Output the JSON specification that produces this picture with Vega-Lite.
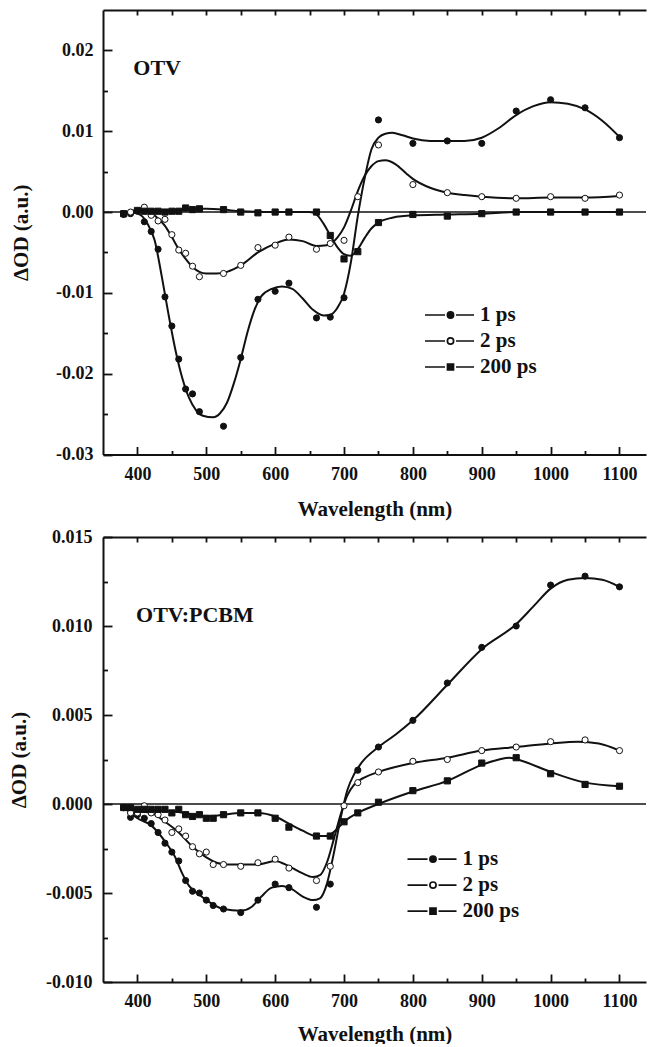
{
  "$schema": "https://vega.github.io/schema/vega-lite/v6.json",
  "padding": {"left": 8, "top": 9, "right": 0, "bottom": 0},
  "spacing": 8,
  "resolve": {"scale": {"shape": "independent", "fill": "independent", "stroke": "independent"}, "legend": {"shape": "independent", "fill": "independent", "stroke": "independent"}},
  "datasets": {
    "pts": [
      {"panel":"OTV","series":"1 ps","wavelength":380,"dOD":-0.0003},
      {"panel":"OTV","series":"1 ps","wavelength":390,"dOD":-0.0002},
      {"panel":"OTV","series":"1 ps","wavelength":400,"dOD":0.0001},
      {"panel":"OTV","series":"1 ps","wavelength":410,"dOD":-0.0012},
      {"panel":"OTV","series":"1 ps","wavelength":420,"dOD":-0.0024},
      {"panel":"OTV","series":"1 ps","wavelength":430,"dOD":-0.0046},
      {"panel":"OTV","series":"1 ps","wavelength":440,"dOD":-0.0105},
      {"panel":"OTV","series":"1 ps","wavelength":450,"dOD":-0.0141},
      {"panel":"OTV","series":"1 ps","wavelength":460,"dOD":-0.0182},
      {"panel":"OTV","series":"1 ps","wavelength":470,"dOD":-0.0219},
      {"panel":"OTV","series":"1 ps","wavelength":480,"dOD":-0.0225},
      {"panel":"OTV","series":"1 ps","wavelength":490,"dOD":-0.0247},
      {"panel":"OTV","series":"1 ps","wavelength":525,"dOD":-0.0265},
      {"panel":"OTV","series":"1 ps","wavelength":550,"dOD":-0.018},
      {"panel":"OTV","series":"1 ps","wavelength":575,"dOD":-0.0108},
      {"panel":"OTV","series":"1 ps","wavelength":600,"dOD":-0.0098},
      {"panel":"OTV","series":"1 ps","wavelength":620,"dOD":-0.0088},
      {"panel":"OTV","series":"1 ps","wavelength":660,"dOD":-0.0131},
      {"panel":"OTV","series":"1 ps","wavelength":680,"dOD":-0.013},
      {"panel":"OTV","series":"1 ps","wavelength":700,"dOD":-0.0106},
      {"panel":"OTV","series":"1 ps","wavelength":750,"dOD":0.0114},
      {"panel":"OTV","series":"1 ps","wavelength":800,"dOD":0.0085},
      {"panel":"OTV","series":"1 ps","wavelength":850,"dOD":0.0088},
      {"panel":"OTV","series":"1 ps","wavelength":900,"dOD":0.0085},
      {"panel":"OTV","series":"1 ps","wavelength":950,"dOD":0.0125},
      {"panel":"OTV","series":"1 ps","wavelength":1000,"dOD":0.0139},
      {"panel":"OTV","series":"1 ps","wavelength":1050,"dOD":0.0129},
      {"panel":"OTV","series":"1 ps","wavelength":1100,"dOD":0.0092},
      {"panel":"OTV","series":"2 ps","wavelength":390,"dOD":0.0},
      {"panel":"OTV","series":"2 ps","wavelength":410,"dOD":0.0006},
      {"panel":"OTV","series":"2 ps","wavelength":420,"dOD":-0.0004},
      {"panel":"OTV","series":"2 ps","wavelength":430,"dOD":-0.0011},
      {"panel":"OTV","series":"2 ps","wavelength":440,"dOD":-0.0009},
      {"panel":"OTV","series":"2 ps","wavelength":450,"dOD":-0.0028},
      {"panel":"OTV","series":"2 ps","wavelength":460,"dOD":-0.0047},
      {"panel":"OTV","series":"2 ps","wavelength":470,"dOD":-0.0051},
      {"panel":"OTV","series":"2 ps","wavelength":480,"dOD":-0.0067},
      {"panel":"OTV","series":"2 ps","wavelength":490,"dOD":-0.008},
      {"panel":"OTV","series":"2 ps","wavelength":525,"dOD":-0.0076},
      {"panel":"OTV","series":"2 ps","wavelength":550,"dOD":-0.0066},
      {"panel":"OTV","series":"2 ps","wavelength":575,"dOD":-0.0044},
      {"panel":"OTV","series":"2 ps","wavelength":600,"dOD":-0.0041},
      {"panel":"OTV","series":"2 ps","wavelength":620,"dOD":-0.0031},
      {"panel":"OTV","series":"2 ps","wavelength":660,"dOD":-0.0046},
      {"panel":"OTV","series":"2 ps","wavelength":680,"dOD":-0.0039},
      {"panel":"OTV","series":"2 ps","wavelength":700,"dOD":-0.0035},
      {"panel":"OTV","series":"2 ps","wavelength":720,"dOD":0.0019},
      {"panel":"OTV","series":"2 ps","wavelength":750,"dOD":0.0083},
      {"panel":"OTV","series":"2 ps","wavelength":800,"dOD":0.0034},
      {"panel":"OTV","series":"2 ps","wavelength":850,"dOD":0.0024},
      {"panel":"OTV","series":"2 ps","wavelength":900,"dOD":0.0019},
      {"panel":"OTV","series":"2 ps","wavelength":950,"dOD":0.0017},
      {"panel":"OTV","series":"2 ps","wavelength":1000,"dOD":0.0019},
      {"panel":"OTV","series":"2 ps","wavelength":1050,"dOD":0.0017},
      {"panel":"OTV","series":"2 ps","wavelength":1100,"dOD":0.0021},
      {"panel":"OTV","series":"200 ps","wavelength":380,"dOD":-0.0002},
      {"panel":"OTV","series":"200 ps","wavelength":400,"dOD":0.0002},
      {"panel":"OTV","series":"200 ps","wavelength":410,"dOD":0.0001},
      {"panel":"OTV","series":"200 ps","wavelength":420,"dOD":0.0001},
      {"panel":"OTV","series":"200 ps","wavelength":430,"dOD":0.0001},
      {"panel":"OTV","series":"200 ps","wavelength":440,"dOD":0.0},
      {"panel":"OTV","series":"200 ps","wavelength":450,"dOD":0.0001},
      {"panel":"OTV","series":"200 ps","wavelength":460,"dOD":0.0001},
      {"panel":"OTV","series":"200 ps","wavelength":470,"dOD":0.0005},
      {"panel":"OTV","series":"200 ps","wavelength":480,"dOD":0.0003},
      {"panel":"OTV","series":"200 ps","wavelength":490,"dOD":0.0004},
      {"panel":"OTV","series":"200 ps","wavelength":525,"dOD":0.0003},
      {"panel":"OTV","series":"200 ps","wavelength":550,"dOD":0.0},
      {"panel":"OTV","series":"200 ps","wavelength":575,"dOD":-0.0001},
      {"panel":"OTV","series":"200 ps","wavelength":600,"dOD":0.0},
      {"panel":"OTV","series":"200 ps","wavelength":620,"dOD":0.0},
      {"panel":"OTV","series":"200 ps","wavelength":660,"dOD":0.0},
      {"panel":"OTV","series":"200 ps","wavelength":680,"dOD":-0.0029},
      {"panel":"OTV","series":"200 ps","wavelength":700,"dOD":-0.0058},
      {"panel":"OTV","series":"200 ps","wavelength":720,"dOD":-0.0049},
      {"panel":"OTV","series":"200 ps","wavelength":750,"dOD":-0.0013},
      {"panel":"OTV","series":"200 ps","wavelength":800,"dOD":-0.0003},
      {"panel":"OTV","series":"200 ps","wavelength":850,"dOD":-0.0005},
      {"panel":"OTV","series":"200 ps","wavelength":900,"dOD":-0.0002},
      {"panel":"OTV","series":"200 ps","wavelength":950,"dOD":0.0},
      {"panel":"OTV","series":"200 ps","wavelength":1000,"dOD":0.0},
      {"panel":"OTV","series":"200 ps","wavelength":1050,"dOD":0.0},
      {"panel":"OTV","series":"200 ps","wavelength":1100,"dOD":0.0},
      {"panel":"PCBM","series":"1 ps","wavelength":380,"dOD":-0.0002},
      {"panel":"PCBM","series":"1 ps","wavelength":390,"dOD":-0.00075},
      {"panel":"PCBM","series":"1 ps","wavelength":400,"dOD":-0.0006},
      {"panel":"PCBM","series":"1 ps","wavelength":410,"dOD":-0.0008},
      {"panel":"PCBM","series":"1 ps","wavelength":420,"dOD":-0.0011},
      {"panel":"PCBM","series":"1 ps","wavelength":430,"dOD":-0.0016},
      {"panel":"PCBM","series":"1 ps","wavelength":440,"dOD":-0.0022},
      {"panel":"PCBM","series":"1 ps","wavelength":450,"dOD":-0.0027},
      {"panel":"PCBM","series":"1 ps","wavelength":460,"dOD":-0.0032},
      {"panel":"PCBM","series":"1 ps","wavelength":470,"dOD":-0.0043},
      {"panel":"PCBM","series":"1 ps","wavelength":480,"dOD":-0.0049},
      {"panel":"PCBM","series":"1 ps","wavelength":490,"dOD":-0.005},
      {"panel":"PCBM","series":"1 ps","wavelength":500,"dOD":-0.0054},
      {"panel":"PCBM","series":"1 ps","wavelength":510,"dOD":-0.0057},
      {"panel":"PCBM","series":"1 ps","wavelength":525,"dOD":-0.0059},
      {"panel":"PCBM","series":"1 ps","wavelength":550,"dOD":-0.0061},
      {"panel":"PCBM","series":"1 ps","wavelength":575,"dOD":-0.0054},
      {"panel":"PCBM","series":"1 ps","wavelength":600,"dOD":-0.0045},
      {"panel":"PCBM","series":"1 ps","wavelength":620,"dOD":-0.0047},
      {"panel":"PCBM","series":"1 ps","wavelength":660,"dOD":-0.0058},
      {"panel":"PCBM","series":"1 ps","wavelength":680,"dOD":-0.0045},
      {"panel":"PCBM","series":"1 ps","wavelength":720,"dOD":0.0019},
      {"panel":"PCBM","series":"1 ps","wavelength":750,"dOD":0.0032},
      {"panel":"PCBM","series":"1 ps","wavelength":800,"dOD":0.0047},
      {"panel":"PCBM","series":"1 ps","wavelength":850,"dOD":0.0068},
      {"panel":"PCBM","series":"1 ps","wavelength":900,"dOD":0.0088},
      {"panel":"PCBM","series":"1 ps","wavelength":950,"dOD":0.01},
      {"panel":"PCBM","series":"1 ps","wavelength":1000,"dOD":0.0123},
      {"panel":"PCBM","series":"1 ps","wavelength":1050,"dOD":0.0128},
      {"panel":"PCBM","series":"1 ps","wavelength":1100,"dOD":0.0122},
      {"panel":"PCBM","series":"2 ps","wavelength":380,"dOD":-0.0002},
      {"panel":"PCBM","series":"2 ps","wavelength":390,"dOD":-0.0005},
      {"panel":"PCBM","series":"2 ps","wavelength":400,"dOD":-0.0005},
      {"panel":"PCBM","series":"2 ps","wavelength":410,"dOD":-0.0001},
      {"panel":"PCBM","series":"2 ps","wavelength":420,"dOD":-0.0005},
      {"panel":"PCBM","series":"2 ps","wavelength":430,"dOD":-0.0006},
      {"panel":"PCBM","series":"2 ps","wavelength":440,"dOD":-0.0009},
      {"panel":"PCBM","series":"2 ps","wavelength":450,"dOD":-0.0016},
      {"panel":"PCBM","series":"2 ps","wavelength":460,"dOD":-0.0014},
      {"panel":"PCBM","series":"2 ps","wavelength":470,"dOD":-0.0018},
      {"panel":"PCBM","series":"2 ps","wavelength":480,"dOD":-0.0024},
      {"panel":"PCBM","series":"2 ps","wavelength":490,"dOD":-0.0028},
      {"panel":"PCBM","series":"2 ps","wavelength":500,"dOD":-0.0027},
      {"panel":"PCBM","series":"2 ps","wavelength":510,"dOD":-0.0034},
      {"panel":"PCBM","series":"2 ps","wavelength":525,"dOD":-0.0034},
      {"panel":"PCBM","series":"2 ps","wavelength":550,"dOD":-0.0035},
      {"panel":"PCBM","series":"2 ps","wavelength":575,"dOD":-0.0033},
      {"panel":"PCBM","series":"2 ps","wavelength":600,"dOD":-0.0031},
      {"panel":"PCBM","series":"2 ps","wavelength":620,"dOD":-0.0036},
      {"panel":"PCBM","series":"2 ps","wavelength":660,"dOD":-0.0043},
      {"panel":"PCBM","series":"2 ps","wavelength":680,"dOD":-0.0035},
      {"panel":"PCBM","series":"2 ps","wavelength":700,"dOD":-0.0001},
      {"panel":"PCBM","series":"2 ps","wavelength":720,"dOD":0.0012},
      {"panel":"PCBM","series":"2 ps","wavelength":750,"dOD":0.0018},
      {"panel":"PCBM","series":"2 ps","wavelength":800,"dOD":0.0024},
      {"panel":"PCBM","series":"2 ps","wavelength":850,"dOD":0.0025},
      {"panel":"PCBM","series":"2 ps","wavelength":900,"dOD":0.003},
      {"panel":"PCBM","series":"2 ps","wavelength":950,"dOD":0.0032},
      {"panel":"PCBM","series":"2 ps","wavelength":1000,"dOD":0.0035},
      {"panel":"PCBM","series":"2 ps","wavelength":1050,"dOD":0.0036},
      {"panel":"PCBM","series":"2 ps","wavelength":1100,"dOD":0.003},
      {"panel":"PCBM","series":"200 ps","wavelength":380,"dOD":-0.0002},
      {"panel":"PCBM","series":"200 ps","wavelength":390,"dOD":-0.0002},
      {"panel":"PCBM","series":"200 ps","wavelength":400,"dOD":-0.0003},
      {"panel":"PCBM","series":"200 ps","wavelength":410,"dOD":-0.0003},
      {"panel":"PCBM","series":"200 ps","wavelength":420,"dOD":-0.0003},
      {"panel":"PCBM","series":"200 ps","wavelength":430,"dOD":-0.0003},
      {"panel":"PCBM","series":"200 ps","wavelength":440,"dOD":-0.0003},
      {"panel":"PCBM","series":"200 ps","wavelength":450,"dOD":-0.0005},
      {"panel":"PCBM","series":"200 ps","wavelength":460,"dOD":-0.0003},
      {"panel":"PCBM","series":"200 ps","wavelength":470,"dOD":-0.0006},
      {"panel":"PCBM","series":"200 ps","wavelength":480,"dOD":-0.0007},
      {"panel":"PCBM","series":"200 ps","wavelength":490,"dOD":-0.0006},
      {"panel":"PCBM","series":"200 ps","wavelength":500,"dOD":-0.0008},
      {"panel":"PCBM","series":"200 ps","wavelength":510,"dOD":-0.0008},
      {"panel":"PCBM","series":"200 ps","wavelength":525,"dOD":-0.0006},
      {"panel":"PCBM","series":"200 ps","wavelength":550,"dOD":-0.0005},
      {"panel":"PCBM","series":"200 ps","wavelength":575,"dOD":-0.0005},
      {"panel":"PCBM","series":"200 ps","wavelength":600,"dOD":-0.0008},
      {"panel":"PCBM","series":"200 ps","wavelength":620,"dOD":-0.0013},
      {"panel":"PCBM","series":"200 ps","wavelength":660,"dOD":-0.0018},
      {"panel":"PCBM","series":"200 ps","wavelength":680,"dOD":-0.0018},
      {"panel":"PCBM","series":"200 ps","wavelength":700,"dOD":-0.001},
      {"panel":"PCBM","series":"200 ps","wavelength":720,"dOD":-0.0005},
      {"panel":"PCBM","series":"200 ps","wavelength":750,"dOD":0.0001},
      {"panel":"PCBM","series":"200 ps","wavelength":800,"dOD":0.00075},
      {"panel":"PCBM","series":"200 ps","wavelength":850,"dOD":0.0013},
      {"panel":"PCBM","series":"200 ps","wavelength":900,"dOD":0.0023},
      {"panel":"PCBM","series":"200 ps","wavelength":950,"dOD":0.0026},
      {"panel":"PCBM","series":"200 ps","wavelength":1000,"dOD":0.0017},
      {"panel":"PCBM","series":"200 ps","wavelength":1050,"dOD":0.0011},
      {"panel":"PCBM","series":"200 ps","wavelength":1100,"dOD":0.001}
    ],
    "crv": [
      {"panel":"OTV","series":"1 ps","wavelength":380,"dOD":-0.0002},
      {"panel":"OTV","series":"1 ps","wavelength":395,"dOD":-0.0001},
      {"panel":"OTV","series":"1 ps","wavelength":405,"dOD":-0.0004},
      {"panel":"OTV","series":"1 ps","wavelength":415,"dOD":-0.0015},
      {"panel":"OTV","series":"1 ps","wavelength":425,"dOD":-0.0035},
      {"panel":"OTV","series":"1 ps","wavelength":435,"dOD":-0.0078},
      {"panel":"OTV","series":"1 ps","wavelength":445,"dOD":-0.0126},
      {"panel":"OTV","series":"1 ps","wavelength":455,"dOD":-0.0170},
      {"panel":"OTV","series":"1 ps","wavelength":465,"dOD":-0.0205},
      {"panel":"OTV","series":"1 ps","wavelength":475,"dOD":-0.0230},
      {"panel":"OTV","series":"1 ps","wavelength":485,"dOD":-0.0245},
      {"panel":"OTV","series":"1 ps","wavelength":495,"dOD":-0.0252},
      {"panel":"OTV","series":"1 ps","wavelength":510,"dOD":-0.0254},
      {"panel":"OTV","series":"1 ps","wavelength":520,"dOD":-0.0249},
      {"panel":"OTV","series":"1 ps","wavelength":530,"dOD":-0.0236},
      {"panel":"OTV","series":"1 ps","wavelength":540,"dOD":-0.0212},
      {"panel":"OTV","series":"1 ps","wavelength":550,"dOD":-0.0182},
      {"panel":"OTV","series":"1 ps","wavelength":560,"dOD":-0.0148},
      {"panel":"OTV","series":"1 ps","wavelength":570,"dOD":-0.0121},
      {"panel":"OTV","series":"1 ps","wavelength":580,"dOD":-0.0104},
      {"panel":"OTV","series":"1 ps","wavelength":595,"dOD":-0.0095},
      {"panel":"OTV","series":"1 ps","wavelength":610,"dOD":-0.0092},
      {"panel":"OTV","series":"1 ps","wavelength":625,"dOD":-0.0095},
      {"panel":"OTV","series":"1 ps","wavelength":640,"dOD":-0.0107},
      {"panel":"OTV","series":"1 ps","wavelength":655,"dOD":-0.0121},
      {"panel":"OTV","series":"1 ps","wavelength":670,"dOD":-0.0128},
      {"panel":"OTV","series":"1 ps","wavelength":680,"dOD":-0.0127},
      {"panel":"OTV","series":"1 ps","wavelength":690,"dOD":-0.0119},
      {"panel":"OTV","series":"1 ps","wavelength":700,"dOD":-0.0101},
      {"panel":"OTV","series":"1 ps","wavelength":710,"dOD":-0.0062},
      {"panel":"OTV","series":"1 ps","wavelength":720,"dOD":-0.0005},
      {"panel":"OTV","series":"1 ps","wavelength":730,"dOD":0.0042},
      {"panel":"OTV","series":"1 ps","wavelength":740,"dOD":0.0078},
      {"panel":"OTV","series":"1 ps","wavelength":750,"dOD":0.0092},
      {"panel":"OTV","series":"1 ps","wavelength":760,"dOD":0.0097},
      {"panel":"OTV","series":"1 ps","wavelength":770,"dOD":0.0098},
      {"panel":"OTV","series":"1 ps","wavelength":785,"dOD":0.0095},
      {"panel":"OTV","series":"1 ps","wavelength":800,"dOD":0.0091},
      {"panel":"OTV","series":"1 ps","wavelength":825,"dOD":0.0088},
      {"panel":"OTV","series":"1 ps","wavelength":850,"dOD":0.0088},
      {"panel":"OTV","series":"1 ps","wavelength":875,"dOD":0.0088},
      {"panel":"OTV","series":"1 ps","wavelength":900,"dOD":0.0092},
      {"panel":"OTV","series":"1 ps","wavelength":925,"dOD":0.0104},
      {"panel":"OTV","series":"1 ps","wavelength":950,"dOD":0.0120},
      {"panel":"OTV","series":"1 ps","wavelength":975,"dOD":0.0131},
      {"panel":"OTV","series":"1 ps","wavelength":1000,"dOD":0.0136},
      {"panel":"OTV","series":"1 ps","wavelength":1025,"dOD":0.0134},
      {"panel":"OTV","series":"1 ps","wavelength":1050,"dOD":0.0127},
      {"panel":"OTV","series":"1 ps","wavelength":1075,"dOD":0.0113},
      {"panel":"OTV","series":"1 ps","wavelength":1100,"dOD":0.0093},
      {"panel":"OTV","series":"2 ps","wavelength":380,"dOD":-0.0002},
      {"panel":"OTV","series":"2 ps","wavelength":395,"dOD":0.0002},
      {"panel":"OTV","series":"2 ps","wavelength":410,"dOD":0.0003},
      {"panel":"OTV","series":"2 ps","wavelength":420,"dOD":-0.0001},
      {"panel":"OTV","series":"2 ps","wavelength":430,"dOD":-0.0008},
      {"panel":"OTV","series":"2 ps","wavelength":440,"dOD":-0.0017},
      {"panel":"OTV","series":"2 ps","wavelength":450,"dOD":-0.0031},
      {"panel":"OTV","series":"2 ps","wavelength":460,"dOD":-0.0046},
      {"panel":"OTV","series":"2 ps","wavelength":470,"dOD":-0.0058},
      {"panel":"OTV","series":"2 ps","wavelength":480,"dOD":-0.0068},
      {"panel":"OTV","series":"2 ps","wavelength":490,"dOD":-0.0074},
      {"panel":"OTV","series":"2 ps","wavelength":500,"dOD":-0.0076},
      {"panel":"OTV","series":"2 ps","wavelength":515,"dOD":-0.0076},
      {"panel":"OTV","series":"2 ps","wavelength":530,"dOD":-0.0074},
      {"panel":"OTV","series":"2 ps","wavelength":550,"dOD":-0.0066},
      {"panel":"OTV","series":"2 ps","wavelength":575,"dOD":-0.0050},
      {"panel":"OTV","series":"2 ps","wavelength":600,"dOD":-0.0039},
      {"panel":"OTV","series":"2 ps","wavelength":620,"dOD":-0.0034},
      {"panel":"OTV","series":"2 ps","wavelength":640,"dOD":-0.0036},
      {"panel":"OTV","series":"2 ps","wavelength":660,"dOD":-0.0042},
      {"panel":"OTV","series":"2 ps","wavelength":675,"dOD":-0.0041},
      {"panel":"OTV","series":"2 ps","wavelength":690,"dOD":-0.0032},
      {"panel":"OTV","series":"2 ps","wavelength":700,"dOD":-0.0019},
      {"panel":"OTV","series":"2 ps","wavelength":710,"dOD":0.0002},
      {"panel":"OTV","series":"2 ps","wavelength":720,"dOD":0.0026},
      {"panel":"OTV","series":"2 ps","wavelength":730,"dOD":0.0045},
      {"panel":"OTV","series":"2 ps","wavelength":740,"dOD":0.0057},
      {"panel":"OTV","series":"2 ps","wavelength":750,"dOD":0.0063},
      {"panel":"OTV","series":"2 ps","wavelength":760,"dOD":0.0064},
      {"panel":"OTV","series":"2 ps","wavelength":775,"dOD":0.0059},
      {"panel":"OTV","series":"2 ps","wavelength":790,"dOD":0.0048},
      {"panel":"OTV","series":"2 ps","wavelength":800,"dOD":0.0041},
      {"panel":"OTV","series":"2 ps","wavelength":825,"dOD":0.0030},
      {"panel":"OTV","series":"2 ps","wavelength":850,"dOD":0.0024},
      {"panel":"OTV","series":"2 ps","wavelength":875,"dOD":0.0021},
      {"panel":"OTV","series":"2 ps","wavelength":900,"dOD":0.0019},
      {"panel":"OTV","series":"2 ps","wavelength":950,"dOD":0.0017},
      {"panel":"OTV","series":"2 ps","wavelength":1000,"dOD":0.0018},
      {"panel":"OTV","series":"2 ps","wavelength":1050,"dOD":0.0018},
      {"panel":"OTV","series":"2 ps","wavelength":1100,"dOD":0.0020},
      {"panel":"OTV","series":"200 ps","wavelength":380,"dOD":-0.0001},
      {"panel":"OTV","series":"200 ps","wavelength":400,"dOD":0.0002},
      {"panel":"OTV","series":"200 ps","wavelength":450,"dOD":0.0002},
      {"panel":"OTV","series":"200 ps","wavelength":480,"dOD":0.0004},
      {"panel":"OTV","series":"200 ps","wavelength":500,"dOD":0.0004},
      {"panel":"OTV","series":"200 ps","wavelength":525,"dOD":0.0003},
      {"panel":"OTV","series":"200 ps","wavelength":550,"dOD":0.0001},
      {"panel":"OTV","series":"200 ps","wavelength":600,"dOD":0.0},
      {"panel":"OTV","series":"200 ps","wavelength":650,"dOD":0.0},
      {"panel":"OTV","series":"200 ps","wavelength":660,"dOD":-0.0003},
      {"panel":"OTV","series":"200 ps","wavelength":670,"dOD":-0.0014},
      {"panel":"OTV","series":"200 ps","wavelength":680,"dOD":-0.0029},
      {"panel":"OTV","series":"200 ps","wavelength":690,"dOD":-0.0043},
      {"panel":"OTV","series":"200 ps","wavelength":700,"dOD":-0.0052},
      {"panel":"OTV","series":"200 ps","wavelength":710,"dOD":-0.0054},
      {"panel":"OTV","series":"200 ps","wavelength":720,"dOD":-0.0046},
      {"panel":"OTV","series":"200 ps","wavelength":730,"dOD":-0.0032},
      {"panel":"OTV","series":"200 ps","wavelength":740,"dOD":-0.0020},
      {"panel":"OTV","series":"200 ps","wavelength":750,"dOD":-0.0013},
      {"panel":"OTV","series":"200 ps","wavelength":770,"dOD":-0.0007},
      {"panel":"OTV","series":"200 ps","wavelength":800,"dOD":-0.0004},
      {"panel":"OTV","series":"200 ps","wavelength":850,"dOD":-0.0003},
      {"panel":"OTV","series":"200 ps","wavelength":900,"dOD":-0.0002},
      {"panel":"OTV","series":"200 ps","wavelength":950,"dOD":0.0},
      {"panel":"OTV","series":"200 ps","wavelength":1000,"dOD":0.0},
      {"panel":"OTV","series":"200 ps","wavelength":1100,"dOD":0.0},
      {"panel":"PCBM","series":"1 ps","wavelength":380,"dOD":-0.0002},
      {"panel":"PCBM","series":"1 ps","wavelength":390,"dOD":-0.0005},
      {"panel":"PCBM","series":"1 ps","wavelength":400,"dOD":-0.0008},
      {"panel":"PCBM","series":"1 ps","wavelength":420,"dOD":-0.0012},
      {"panel":"PCBM","series":"1 ps","wavelength":440,"dOD":-0.0021},
      {"panel":"PCBM","series":"1 ps","wavelength":455,"dOD":-0.0030},
      {"panel":"PCBM","series":"1 ps","wavelength":465,"dOD":-0.0039},
      {"panel":"PCBM","series":"1 ps","wavelength":475,"dOD":-0.0046},
      {"panel":"PCBM","series":"1 ps","wavelength":490,"dOD":-0.0051},
      {"panel":"PCBM","series":"1 ps","wavelength":500,"dOD":-0.0054},
      {"panel":"PCBM","series":"1 ps","wavelength":525,"dOD":-0.0059},
      {"panel":"PCBM","series":"1 ps","wavelength":550,"dOD":-0.0060},
      {"panel":"PCBM","series":"1 ps","wavelength":565,"dOD":-0.0058},
      {"panel":"PCBM","series":"1 ps","wavelength":580,"dOD":-0.0052},
      {"panel":"PCBM","series":"1 ps","wavelength":595,"dOD":-0.0047},
      {"panel":"PCBM","series":"1 ps","wavelength":610,"dOD":-0.0046},
      {"panel":"PCBM","series":"1 ps","wavelength":625,"dOD":-0.0048},
      {"panel":"PCBM","series":"1 ps","wavelength":640,"dOD":-0.0052},
      {"panel":"PCBM","series":"1 ps","wavelength":655,"dOD":-0.0054},
      {"panel":"PCBM","series":"1 ps","wavelength":665,"dOD":-0.0053},
      {"panel":"PCBM","series":"1 ps","wavelength":675,"dOD":-0.0045},
      {"panel":"PCBM","series":"1 ps","wavelength":685,"dOD":-0.0028},
      {"panel":"PCBM","series":"1 ps","wavelength":695,"dOD":-0.0008},
      {"panel":"PCBM","series":"1 ps","wavelength":705,"dOD":0.0008},
      {"panel":"PCBM","series":"1 ps","wavelength":715,"dOD":0.0017},
      {"panel":"PCBM","series":"1 ps","wavelength":725,"dOD":0.0023},
      {"panel":"PCBM","series":"1 ps","wavelength":750,"dOD":0.0032},
      {"panel":"PCBM","series":"1 ps","wavelength":775,"dOD":0.0039},
      {"panel":"PCBM","series":"1 ps","wavelength":800,"dOD":0.0047},
      {"panel":"PCBM","series":"1 ps","wavelength":850,"dOD":0.0067},
      {"panel":"PCBM","series":"1 ps","wavelength":900,"dOD":0.0087},
      {"panel":"PCBM","series":"1 ps","wavelength":950,"dOD":0.0101},
      {"panel":"PCBM","series":"1 ps","wavelength":975,"dOD":0.0111},
      {"panel":"PCBM","series":"1 ps","wavelength":1000,"dOD":0.0121},
      {"panel":"PCBM","series":"1 ps","wavelength":1025,"dOD":0.0126},
      {"panel":"PCBM","series":"1 ps","wavelength":1050,"dOD":0.0127},
      {"panel":"PCBM","series":"1 ps","wavelength":1075,"dOD":0.0126},
      {"panel":"PCBM","series":"1 ps","wavelength":1100,"dOD":0.0122},
      {"panel":"PCBM","series":"2 ps","wavelength":380,"dOD":-0.0002},
      {"panel":"PCBM","series":"2 ps","wavelength":400,"dOD":-0.0004},
      {"panel":"PCBM","series":"2 ps","wavelength":420,"dOD":-0.0005},
      {"panel":"PCBM","series":"2 ps","wavelength":440,"dOD":-0.0010},
      {"panel":"PCBM","series":"2 ps","wavelength":460,"dOD":-0.0016},
      {"panel":"PCBM","series":"2 ps","wavelength":480,"dOD":-0.0024},
      {"panel":"PCBM","series":"2 ps","wavelength":500,"dOD":-0.0030},
      {"panel":"PCBM","series":"2 ps","wavelength":515,"dOD":-0.0033},
      {"panel":"PCBM","series":"2 ps","wavelength":530,"dOD":-0.0034},
      {"panel":"PCBM","series":"2 ps","wavelength":550,"dOD":-0.0034},
      {"panel":"PCBM","series":"2 ps","wavelength":575,"dOD":-0.0034},
      {"panel":"PCBM","series":"2 ps","wavelength":600,"dOD":-0.0032},
      {"panel":"PCBM","series":"2 ps","wavelength":620,"dOD":-0.0035},
      {"panel":"PCBM","series":"2 ps","wavelength":640,"dOD":-0.0039},
      {"panel":"PCBM","series":"2 ps","wavelength":655,"dOD":-0.0041},
      {"panel":"PCBM","series":"2 ps","wavelength":665,"dOD":-0.0040},
      {"panel":"PCBM","series":"2 ps","wavelength":675,"dOD":-0.0033},
      {"panel":"PCBM","series":"2 ps","wavelength":685,"dOD":-0.0020},
      {"panel":"PCBM","series":"2 ps","wavelength":695,"dOD":-0.0006},
      {"panel":"PCBM","series":"2 ps","wavelength":705,"dOD":0.0005},
      {"panel":"PCBM","series":"2 ps","wavelength":715,"dOD":0.0011},
      {"panel":"PCBM","series":"2 ps","wavelength":730,"dOD":0.0015},
      {"panel":"PCBM","series":"2 ps","wavelength":750,"dOD":0.0018},
      {"panel":"PCBM","series":"2 ps","wavelength":800,"dOD":0.0023},
      {"panel":"PCBM","series":"2 ps","wavelength":850,"dOD":0.0026},
      {"panel":"PCBM","series":"2 ps","wavelength":900,"dOD":0.0030},
      {"panel":"PCBM","series":"2 ps","wavelength":950,"dOD":0.0032},
      {"panel":"PCBM","series":"2 ps","wavelength":1000,"dOD":0.0034},
      {"panel":"PCBM","series":"2 ps","wavelength":1040,"dOD":0.0035},
      {"panel":"PCBM","series":"2 ps","wavelength":1070,"dOD":0.0034},
      {"panel":"PCBM","series":"2 ps","wavelength":1100,"dOD":0.0030},
      {"panel":"PCBM","series":"200 ps","wavelength":380,"dOD":-0.0002},
      {"panel":"PCBM","series":"200 ps","wavelength":400,"dOD":-0.0003},
      {"panel":"PCBM","series":"200 ps","wavelength":450,"dOD":-0.0004},
      {"panel":"PCBM","series":"200 ps","wavelength":480,"dOD":-0.0006},
      {"panel":"PCBM","series":"200 ps","wavelength":500,"dOD":-0.0007},
      {"panel":"PCBM","series":"200 ps","wavelength":525,"dOD":-0.0006},
      {"panel":"PCBM","series":"200 ps","wavelength":550,"dOD":-0.0005},
      {"panel":"PCBM","series":"200 ps","wavelength":575,"dOD":-0.0005},
      {"panel":"PCBM","series":"200 ps","wavelength":600,"dOD":-0.0007},
      {"panel":"PCBM","series":"200 ps","wavelength":620,"dOD":-0.0011},
      {"panel":"PCBM","series":"200 ps","wavelength":640,"dOD":-0.0015},
      {"panel":"PCBM","series":"200 ps","wavelength":660,"dOD":-0.0018},
      {"panel":"PCBM","series":"200 ps","wavelength":675,"dOD":-0.0018},
      {"panel":"PCBM","series":"200 ps","wavelength":690,"dOD":-0.0014},
      {"panel":"PCBM","series":"200 ps","wavelength":700,"dOD":-0.0010},
      {"panel":"PCBM","series":"200 ps","wavelength":720,"dOD":-0.0005},
      {"panel":"PCBM","series":"200 ps","wavelength":750,"dOD":0.0},
      {"panel":"PCBM","series":"200 ps","wavelength":800,"dOD":0.0007},
      {"panel":"PCBM","series":"200 ps","wavelength":850,"dOD":0.0013},
      {"panel":"PCBM","series":"200 ps","wavelength":900,"dOD":0.0022},
      {"panel":"PCBM","series":"200 ps","wavelength":925,"dOD":0.0025},
      {"panel":"PCBM","series":"200 ps","wavelength":940,"dOD":0.0026},
      {"panel":"PCBM","series":"200 ps","wavelength":960,"dOD":0.0024},
      {"panel":"PCBM","series":"200 ps","wavelength":1000,"dOD":0.0018},
      {"panel":"PCBM","series":"200 ps","wavelength":1050,"dOD":0.0012},
      {"panel":"PCBM","series":"200 ps","wavelength":1100,"dOD":0.0010}
    ]
  },
  "vconcat": [
    {
      "width": 543,
      "height": 444.5,
      "resolve": {"axis": {"x": "independent", "y": "independent"}, "scale": {"shape": "independent", "fill": "independent", "stroke": "independent"}},
      "layer": [
        {
          "data": {"values": [{}]},
          "mark": {"type": "rule", "stroke": "#111", "strokeWidth": 1.6},
          "encoding": {"y": {"datum": 0, "type": "quantitative", "axis": null}}
        },
        {
          "data": {"name": "crv"},
          "transform": [{"filter": "datum.panel === 'OTV'"}],
          "mark": {"type": "line", "interpolate": "monotone", "stroke": "#111", "strokeWidth": 2},
          "encoding": {
            "x": {"field": "wavelength", "type": "quantitative", "title": "Wavelength (nm)",
              "scale": {"domain": [350, 1138.5], "nice": false, "zero": false},
              "axis": {"orient": "bottom", "values": [400,450,500,550,600,650,700,750,800,850,900,950,1000,1050,1100],
                "format": "d",
                "labelExpr": "datum.value % 100 === 0 ? datum.label : ''",
                "tickSize": {"condition": {"test": "datum.value % 100 === 0", "value": -8}, "value": -4},
                "labelPadding": 19, "titlePadding": 11, "labelFlush": false, "labelOverlap": false}},
            "y": {"field": "dOD", "type": "quantitative", "title": "ΔOD (a.u.)",
              "scale": {"domain": [-0.03, 0.025], "nice": false, "zero": false},
              "axis": {"orient": "left", "values": [-0.03,-0.025,-0.02,-0.015,-0.01,-0.005,0,0.005,0.01,0.015,0.02],
                "format": ".2f",
                "labelExpr": "abs(datum.value*100 - round(datum.value*100)) < 1e-6 ? replace(datum.label, '−', '-') : ''",
                "tickSize": {"condition": {"test": "abs(datum.value*100 - round(datum.value*100)) < 1e-6", "value": -9}, "value": -4.5},
                "labelPadding": 19, "titlePadding": 24, "labelFlush": false, "labelOverlap": false}},
            "detail": {"field": "series"}
          }
        },
        {
          "data": {"name": "pts"},
          "transform": [{"filter": "datum.panel === 'OTV'"}],
          "mark": {"type": "point", "filled": true, "size": 38, "stroke": "#111", "strokeWidth": 1, "opacity": 1},
          "encoding": {
            "x": {"field": "wavelength", "type": "quantitative",
              "axis": {"orient": "top", "values": [400,450,500,550,600,650,700,750,800,850,900,950,1000,1050,1100], "labels": false, "title": null, "tickSize": -5}},
            "y": {"field": "dOD", "type": "quantitative", "axis": null},
            "shape": {"field": "series", "type": "nominal", "scale": {"domain": ["1 ps", "2 ps", "200 ps"], "range": ["circle", "circle", "square"]}, "legend": null},
            "fill": {"field": "series", "type": "nominal", "scale": {"domain": ["1 ps", "2 ps", "200 ps"], "range": ["#111", "#ffffff", "#111"]}, "legend": null}
          }
        },
        {
          "data": {"values": []},
          "mark": {"type": "point", "filled": true, "opacity": 1, "stroke": "#111", "strokeWidth": 1.7},
          "encoding": {
            "shape": {"field": "key", "type": "nominal",
              "scale": {"domain": ["1 ps", "2 ps", "200 ps"], "range": ["M-5.1,0H-1.1M1.1,0H4.7M0.62,0A0.62,0.62,0,1,1,-0.62,0A0.62,0.62,0,1,1,0.62,0Z", "M-5.1,0H-1.1M1.1,0H4.7M0.62,0A0.62,0.62,0,1,1,-0.62,0A0.62,0.62,0,1,1,0.62,0Z", "M-5.1,0H-1.1M1.1,0H4.7M-0.6,-0.6H0.6V0.6H-0.6Z"]},
              "legend": {"orient": "none", "legendX": 337, "legendY": 294.5, "title": null, "padding": 0,
                "labelFont": "Liberation Serif", "labelFontWeight": "bold", "labelFontSize": 21, "labelColor": "#111",
                "labelOffset": 19, "rowPadding": 4, "symbolSize": 100, "symbolStrokeWidth": 1.7,
                "encode": {"symbols": {"update": {"stroke": {"value": "#111"}, "strokeWidth": {"value": 1.7}}}}}},
            "fill": {"field": "key", "type": "nominal",
              "scale": {"domain": ["1 ps", "2 ps", "200 ps"], "range": ["#111", "#ffffff", "#111"]},
              "legend": {"orient": "none", "legendX": 337, "legendY": 294.5, "title": null, "padding": 0,
                "labelFont": "Liberation Serif", "labelFontWeight": "bold", "labelFontSize": 21, "labelColor": "#111",
                "labelOffset": 19, "rowPadding": 4, "symbolSize": 100, "symbolStrokeWidth": 1.7,
                "encode": {"symbols": {"update": {"stroke": {"value": "#111"}, "strokeWidth": {"value": 1.7}}}}}},
            "stroke": {"field": "key", "type": "nominal",
              "scale": {"domain": ["1 ps", "2 ps", "200 ps"], "range": ["#111", "#111", "#111"]},
              "legend": {"orient": "none", "legendX": 337, "legendY": 294.5, "title": null, "padding": 0,
                "labelFont": "Liberation Serif", "labelFontWeight": "bold", "labelFontSize": 21, "labelColor": "#111",
                "labelOffset": 19, "rowPadding": 4, "symbolSize": 100, "symbolStrokeWidth": 1.7,
                "encode": {"symbols": {"update": {"stroke": {"value": "#111"}, "strokeWidth": {"value": 1.7}}}}}}
          }
        },
        {
          "data": {"values": [{"label": "OTV"}]},
          "mark": {"type": "text", "align": "left", "baseline": "alphabetic", "font": "Liberation Serif", "fontWeight": "bold", "fontSize": 22, "fill": "#111"},
          "encoding": {
            "x": {"datum": 394, "type": "quantitative", "axis": null},
            "y": {"datum": 0.017, "type": "quantitative", "axis": null},
            "text": {"field": "label"}
          }
        }
      ]
    },
    {
      "width": 543,
      "height": 445,
      "resolve": {"axis": {"x": "independent", "y": "independent"}, "scale": {"shape": "independent", "fill": "independent", "stroke": "independent"}},
      "layer": [
        {
          "data": {"values": [{}]},
          "mark": {"type": "rule", "stroke": "#111", "strokeWidth": 1.6},
          "encoding": {"y": {"datum": 0, "type": "quantitative", "axis": null}}
        },
        {
          "data": {"name": "crv"},
          "transform": [{"filter": "datum.panel === 'PCBM'"}],
          "mark": {"type": "line", "interpolate": "monotone", "stroke": "#111", "strokeWidth": 2},
          "encoding": {
            "x": {"field": "wavelength", "type": "quantitative", "title": "Wavelength (nm)",
              "scale": {"domain": [350, 1138.5], "nice": false, "zero": false},
              "axis": {"orient": "bottom", "values": [400,450,500,550,600,650,700,750,800,850,900,950,1000,1050,1100],
                "format": "d",
                "labelExpr": "datum.value % 100 === 0 ? datum.label : ''",
                "tickSize": {"condition": {"test": "datum.value % 100 === 0", "value": -8}, "value": -4},
                "labelPadding": 18, "titlePadding": 9, "labelFlush": false, "labelOverlap": false}},
            "y": {"field": "dOD", "type": "quantitative", "title": "ΔOD (a.u.)",
              "scale": {"domain": [-0.01, 0.015], "nice": false, "zero": false},
              "axis": {"orient": "left", "values": [-0.01,-0.0075,-0.005,-0.0025,0,0.0025,0.005,0.0075,0.01,0.0125,0.015],
                "format": ".3f",
                "labelExpr": "abs(datum.value*200 - round(datum.value*200)) < 1e-6 ? replace(datum.label, '−', '-') : ''",
                "tickSize": {"condition": {"test": "abs(datum.value*200 - round(datum.value*200)) < 1e-6", "value": -9}, "value": -4.5},
                "labelPadding": 20, "titlePadding": 16, "labelFlush": false, "labelOverlap": false}},
            "detail": {"field": "series"}
          }
        },
        {
          "data": {"name": "pts"},
          "transform": [{"filter": "datum.panel === 'PCBM'"}],
          "mark": {"type": "point", "filled": true, "size": 38, "stroke": "#111", "strokeWidth": 1, "opacity": 1},
          "encoding": {
            "x": {"field": "wavelength", "type": "quantitative",
              "axis": {"orient": "top", "values": [400,450,500,550,600,650,700,750,800,850,900,950,1000,1050,1100], "labels": false, "title": null, "tickSize": -5}},
            "y": {"field": "dOD", "type": "quantitative", "axis": null},
            "shape": {"field": "series", "type": "nominal", "scale": {"domain": ["1 ps", "2 ps", "200 ps"], "range": ["circle", "circle", "square"]}, "legend": null},
            "fill": {"field": "series", "type": "nominal", "scale": {"domain": ["1 ps", "2 ps", "200 ps"], "range": ["#111", "#ffffff", "#111"]}, "legend": null}
          }
        },
        {
          "data": {"values": []},
          "mark": {"type": "point", "filled": true, "opacity": 1, "stroke": "#111", "strokeWidth": 1.7},
          "encoding": {
            "shape": {"field": "key", "type": "nominal",
              "scale": {"domain": ["1 ps", "2 ps", "200 ps"], "range": ["M-5.1,0H-1.1M1.1,0H4.7M0.62,0A0.62,0.62,0,1,1,-0.62,0A0.62,0.62,0,1,1,0.62,0Z", "M-5.1,0H-1.1M1.1,0H4.7M0.62,0A0.62,0.62,0,1,1,-0.62,0A0.62,0.62,0,1,1,0.62,0Z", "M-5.1,0H-1.1M1.1,0H4.7M-0.6,-0.6H0.6V0.6H-0.6Z"]},
              "legend": {"orient": "none", "legendX": 319.5, "legendY": 311.6, "title": null, "padding": 0,
                "labelFont": "Liberation Serif", "labelFontWeight": "bold", "labelFontSize": 21, "labelColor": "#111",
                "labelOffset": 19, "rowPadding": 4, "symbolSize": 100, "symbolStrokeWidth": 1.7,
                "encode": {"symbols": {"update": {"stroke": {"value": "#111"}, "strokeWidth": {"value": 1.7}}}}}},
            "fill": {"field": "key", "type": "nominal",
              "scale": {"domain": ["1 ps", "2 ps", "200 ps"], "range": ["#111", "#ffffff", "#111"]},
              "legend": {"orient": "none", "legendX": 319.5, "legendY": 311.6, "title": null, "padding": 0,
                "labelFont": "Liberation Serif", "labelFontWeight": "bold", "labelFontSize": 21, "labelColor": "#111",
                "labelOffset": 19, "rowPadding": 4, "symbolSize": 100, "symbolStrokeWidth": 1.7,
                "encode": {"symbols": {"update": {"stroke": {"value": "#111"}, "strokeWidth": {"value": 1.7}}}}}},
            "stroke": {"field": "key", "type": "nominal",
              "scale": {"domain": ["1 ps", "2 ps", "200 ps"], "range": ["#111", "#111", "#111"]},
              "legend": {"orient": "none", "legendX": 319.5, "legendY": 311.6, "title": null, "padding": 0,
                "labelFont": "Liberation Serif", "labelFontWeight": "bold", "labelFontSize": 21, "labelColor": "#111",
                "labelOffset": 19, "rowPadding": 4, "symbolSize": 100, "symbolStrokeWidth": 1.7,
                "encode": {"symbols": {"update": {"stroke": {"value": "#111"}, "strokeWidth": {"value": 1.7}}}}}}
          }
        },
        {
          "data": {"values": [{"label": "OTV:PCBM"}]},
          "mark": {"type": "text", "align": "left", "baseline": "alphabetic", "font": "Liberation Serif", "fontWeight": "bold", "fontSize": 22, "fill": "#111"},
          "encoding": {
            "x": {"datum": 398, "type": "quantitative", "axis": null},
            "y": {"datum": 0.0102, "type": "quantitative", "axis": null},
            "text": {"field": "label"}
          }
        }
      ]
    }
  ],
  "config": {
    "view": {"stroke": null},
    "axis": {
      "grid": false, "domainColor": "#111", "domainWidth": 2, "tickColor": "#111", "tickWidth": 1.8,
      "labelFont": "Liberation Serif", "labelFontWeight": "bold", "labelFontSize": 18, "labelColor": "#111",
      "titleFont": "Liberation Serif", "titleFontWeight": "bold", "titleFontSize": 21, "titleColor": "#111"
    }
  }
}
